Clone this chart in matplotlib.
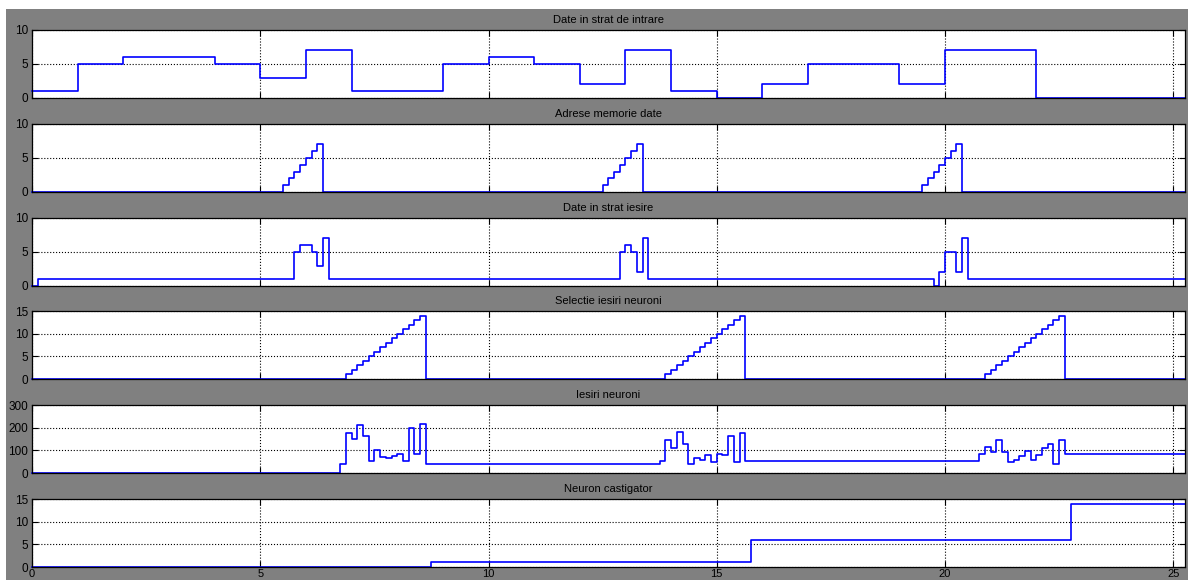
import numpy as np
import matplotlib
matplotlib.use('Agg')
import matplotlib.pyplot as plt
from matplotlib.patches import Rectangle

plt.rcParams['font.family'] = ['Liberation Sans', 'DejaVu Sans']

# time range of the scope
t_end = 25.25

# Date in strat de intrare
t1 = [0, 1, 2, 4, 5, 6, 7, 9, 10, 11, 12, 13, 14, 15, 16, 17, 19, 20, 22, t_end]
v1 = [1, 5, 6, 5, 3, 7, 1, 5, 6, 5, 2, 7, 1, 0, 2, 5, 2, 7, 0, 0]

# Adrese memorie date
t2 = [0,
      5.5, 5.625, 5.75, 5.875, 6.0, 6.125, 6.25, 6.375,
      12.5, 12.625, 12.75, 12.875, 13.0, 13.125, 13.25, 13.375,
      19.5, 19.625, 19.75, 19.875, 20.0, 20.125, 20.25, 20.375,
      t_end]
v2 = [0,
      1, 2, 3, 4, 5, 6, 7, 0,
      1, 2, 3, 4, 5, 6, 7, 0,
      1, 2, 3, 4, 5, 6, 7, 0,
      0]

# Date in strat iesire
t3 = [0, 0.125,
      5.75, 5.875, 6.125, 6.25, 6.375, 6.5,
      12.875, 13.0, 13.125, 13.25, 13.375, 13.5,
      19.75, 19.875, 20.0, 20.25, 20.375, 20.5,
      t_end]
v3 = [0, 1,
      5, 6, 5, 3, 7, 1,
      5, 6, 5, 2, 7, 1,
      0, 2, 5, 2, 7, 1,
      1]

# Selectie iesiri neuroni
t4 = [0,
      6.875, 7.0, 7.125, 7.25, 7.375, 7.5, 7.625, 7.75, 7.875, 8.0, 8.125, 8.25, 8.375, 8.5, 8.625,
      13.875, 14.0, 14.125, 14.25, 14.375, 14.5, 14.625, 14.75, 14.875, 15.0, 15.125, 15.25, 15.375, 15.5, 15.625,
      20.875, 21.0, 21.125, 21.25, 21.375, 21.5, 21.625, 21.75, 21.875, 22.0, 22.125, 22.25, 22.375, 22.5, 22.625,
      t_end]
v4 = [0,
      1, 2, 3, 4, 5, 6, 7, 8, 9, 10, 11, 12, 13, 14, 0,
      1, 2, 3, 4, 5, 6, 7, 8, 9, 10, 11, 12, 13, 14, 0,
      1, 2, 3, 4, 5, 6, 7, 8, 9, 10, 11, 12, 13, 14, 0,
      0]

# Iesiri neuroni
t5 = [0,
      6.75, 6.875, 7.0, 7.125, 7.25, 7.375, 7.5, 7.625, 7.75, 7.875, 8.0, 8.125, 8.25, 8.375, 8.5, 8.625,
      13.75, 13.875, 14.0, 14.125, 14.25, 14.375, 14.5, 14.625, 14.75, 14.875, 15.0, 15.125, 15.25, 15.375, 15.5, 15.625,
      20.75, 20.875, 21.0, 21.125, 21.25, 21.375, 21.5, 21.625, 21.75, 21.875, 22.0, 22.125, 22.25, 22.375, 22.5, 22.625,
      t_end]
v5 = [0,
      40, 178, 150, 213, 162, 54, 100, 71, 66, 75, 85, 54, 197, 84, 218, 40,
      54, 147, 109, 182, 128, 40, 66, 59, 79, 50, 85, 79, 162, 47, 178, 54,
      84, 115, 94, 146, 94, 47, 59, 75, 99, 59, 78, 109, 129, 40, 146, 84,
      84]

# Neuron castigator
t6 = [0, 8.75, 15.75, 22.75, t_end]
v6 = [0, 1, 6, 14, 14]

titles = ['Date in strat de intrare', 'Adrese memorie date', 'Date in strat iesire',
          'Selectie iesiri neuroni', 'Iesiri neuroni', 'Neuron castigator']
series = [(t1, v1), (t2, v2), (t3, v3), (t4, v4), (t5, v5), (t6, v6)]
ylims = [10, 10, 10, 15, 300, 15]
yticks = [[0, 5, 10], [0, 5, 10], [0, 5, 10], [0, 5, 10, 15], [0, 100, 200, 300], [0, 5, 10, 15]]
xticks = [0, 5, 10, 15, 20, 25]

W, H = 1188, 580
fig = plt.figure(figsize=(W / 100, H / 100), dpi=100, facecolor='white')
fig.patches.append(Rectangle((6 / W, 0), 1 - 6 / W, (H - 9) / H, transform=fig.transFigure,
                             facecolor='#808080', edgecolor='none', zorder=-10))

left, right = 32, 1184.7
tops = [30, 124, 218, 311, 405, 499]
ph = 68

for i, (t, v) in enumerate(series):
    top = tops[i]
    ax = fig.add_axes([left / W, 1 - (top + ph) / H, (right - left) / W, ph / H])
    ax.set_facecolor('white')
    ax.plot(t, v, drawstyle='steps-post', color='#0000ff', lw=1.2, clip_on=False)
    ax.set_xlim(0, t_end)
    ax.set_ylim(0, ylims[i])
    ax.set_yticks(yticks[i])
    ax.set_xticks(xticks)
    ax.grid(True, linestyle=':', color='black', lw=0.8)
    ax.tick_params(direction='in', length=4, width=0.8, top=True, right=True,
                   labelsize=8.5, pad=3, colors='black')
    ax.tick_params(axis='x', labelsize=8, pad=1.5)
    if i < 5:
        ax.set_xticklabels([])
    for s in ax.spines.values():
        s.set_color('black')
        s.set_linewidth(0.9)
    ax.set_title(titles[i], fontsize=8, pad=5, color='black')

fig.savefig('out.png', dpi=100, facecolor=fig.get_facecolor())
